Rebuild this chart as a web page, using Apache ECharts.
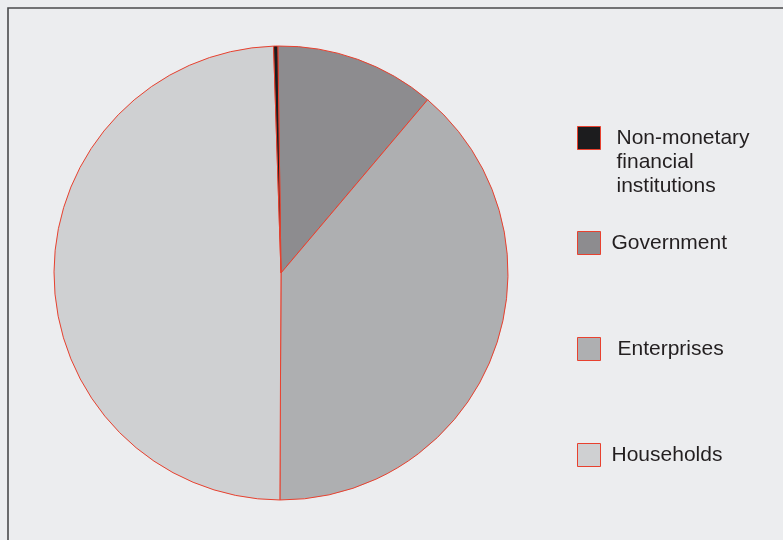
<!DOCTYPE html>
<html>
<head>
<meta charset="utf-8">
<script src="https://cdn.jsdelivr.net/npm/echarts@6/dist/echarts.min.js"></script>
<style>
html,body{margin:0;padding:0;background:#ECEDEF;}
#c{width:783px;height:540px;}
</style>
</head>
<body>
<div id="c"></div>
<script>
// Legend order (top to bottom)
const legendNames = ["Non-monetary\nfinancial\ninstitutions", "Government", "Enterprises", "Households"];
// Slice order clockwise from top
const sliceNames = ["Government", "Enterprises", "Households", "Non-monetary\nfinancial\ninstitutions"];
const sliceValues = [11.4, 38.9, 49.4, 0.3];
const sliceColors = ["#8D8C8F", "#AEAFB1", "#CFD0D2", "#1C1C1E"];

const chart = echarts.init(document.getElementById('c'), null, {renderer: 'canvas'});

const legendTops = [78, 231, 337, 443];
const legendPadLeft = [11, 6, 12, 6];
const legends = legendNames.map((n, i) => ({
  data: [n],
  orient: 'vertical',
  left: 577,
  top: legendTops[i],
  itemWidth: 23,
  itemHeight: 23,
  padding: 0,
  selectedMode: false,
  icon: 'rect',
  formatter: i === 0 ? (name => '\n\n' + name) : '{name}',
  itemStyle: {borderColor: '#E8412F', borderWidth: 1},
  textStyle: {
    fontFamily: 'Liberation Sans, Arial, sans-serif',
    fontSize: 21,
    lineHeight: 24,
    color: '#231F20',
    padding: [0, 0, 0, legendPadLeft[i]]
  }
}));

chart.setOption({
  backgroundColor: '#ECEDEF',
  animation: false,
  legend: legends,
  graphic: [{
    type: 'polyline',
    shape: {points: [[8, 541], [8, 8], [784, 8]]},
    style: {stroke: '#4A4A4C', lineWidth: 1.6, fill: null},
    silent: true
  }],
  series: [{
    type: 'pie',
    center: [281, 273],
    radius: 227,
    startAngle: 90.8,
    clockwise: true,
    label: {show: false},
    labelLine: {show: false},
    emphasis: {disabled: true},
    itemStyle: {borderColor: '#E8412F', borderWidth: 1},
    data: sliceNames.map((n, i) => ({name: n, value: sliceValues[i], itemStyle: {color: sliceColors[i]}}))
  }]
});
</script>
</body>
</html>
